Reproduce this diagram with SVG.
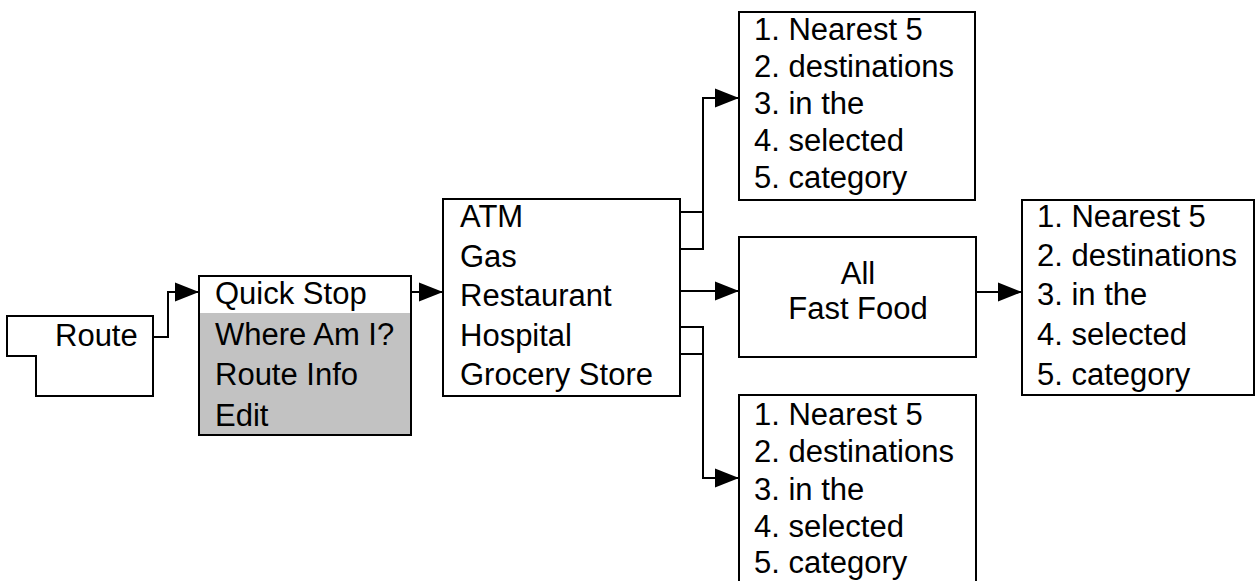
<svg xmlns="http://www.w3.org/2000/svg" width="1257" height="581" viewBox="0 0 1257 581">
<style>
.box{fill:#fff;stroke:#000;stroke-width:2}
.t{font-family:"Liberation Sans",Arial,Helvetica,sans-serif;font-size:31px;fill:#000}
.c{fill:none;stroke:#000;stroke-width:2}
</style>
<defs>
<marker id="ah" markerUnits="userSpaceOnUse" markerWidth="24" markerHeight="20" refX="24" refY="9.5" orient="auto" viewBox="0 0 24 19">
<path d="M0,0 L24,9.5 L0,19 Z" fill="#000"/>
</marker>
</defs>
<rect width="1257" height="581" fill="#fff"/>
<g id="connectors">
<path class="c" d="M153,337 H168 V292 H199" marker-end="url(#ah)"/>
<path class="c" d="M411,292 H443" marker-end="url(#ah)"/>
<path class="c" d="M680,212 H703"/>
<path class="c" d="M680,249 H703 V98 H739" marker-end="url(#ah)"/>
<path class="c" d="M680,291 H739" marker-end="url(#ah)"/>
<path class="c" d="M680,354 H703"/>
<path class="c" d="M680,327 H703 V478 H739" marker-end="url(#ah)"/>
<path class="c" d="M976,292 H1022" marker-end="url(#ah)"/>
</g>
<g id="route">
<polygon class="box" points="7,316 153,316 153,396 36,396 36,356 7,356"/>
<text class="t" x="55" y="346">Route</text>
</g>
<g id="menu">
<rect x="199" y="276" width="212" height="159" fill="#c2c2c2" stroke="#000" stroke-width="2"/>
<rect x="200" y="277" width="210" height="36" fill="#fff"/>
<text class="t" x="215" y="304">Quick Stop</text>
<text class="t" x="215" y="344.5">Where Am I?</text>
<text class="t" x="215" y="385">Route Info</text>
<text class="t" x="215" y="425.5">Edit</text>
</g>
<g id="categories">
<rect class="box" x="443" y="199" width="237" height="197"/>
<text class="t" x="460" y="227">ATM</text>
<text class="t" x="460" y="266.5">Gas</text>
<text class="t" x="460" y="306">Restaurant</text>
<text class="t" x="460" y="345.5">Hospital</text>
<text class="t" x="460" y="385">Grocery Store</text>
</g>
<g id="top-list">
<rect class="box" x="739" y="12" width="236" height="188"/>
<text class="t" x="754" y="40">1. Nearest 5</text>
<text class="t" x="754" y="77">2. destinations</text>
<text class="t" x="754" y="114">3. in the</text>
<text class="t" x="754" y="151">4. selected</text>
<text class="t" x="754" y="188">5. category</text>
</g>
<g id="fast-food">
<rect class="box" x="739" y="237" width="237" height="120"/>
<text class="t" x="858" y="284" text-anchor="middle">All</text>
<text class="t" x="858" y="319" text-anchor="middle">Fast Food</text>
</g>
<g id="right-list">
<rect class="box" x="1022" y="200" width="232" height="195"/>
<text class="t" x="1037" y="227">1. Nearest 5</text>
<text class="t" x="1037" y="266">2. destinations</text>
<text class="t" x="1037" y="305">3. in the</text>
<text class="t" x="1037" y="345">4. selected</text>
<text class="t" x="1037" y="385">5. category</text>
</g>
<g id="bottom-list">
<rect class="box" x="739" y="395" width="237" height="190"/>
<text class="t" x="754" y="425">1. Nearest 5</text>
<text class="t" x="754" y="462">2. destinations</text>
<text class="t" x="754" y="500">3. in the</text>
<text class="t" x="754" y="537">4. selected</text>
<text class="t" x="754" y="573">5. category</text>
</g>
</svg>
